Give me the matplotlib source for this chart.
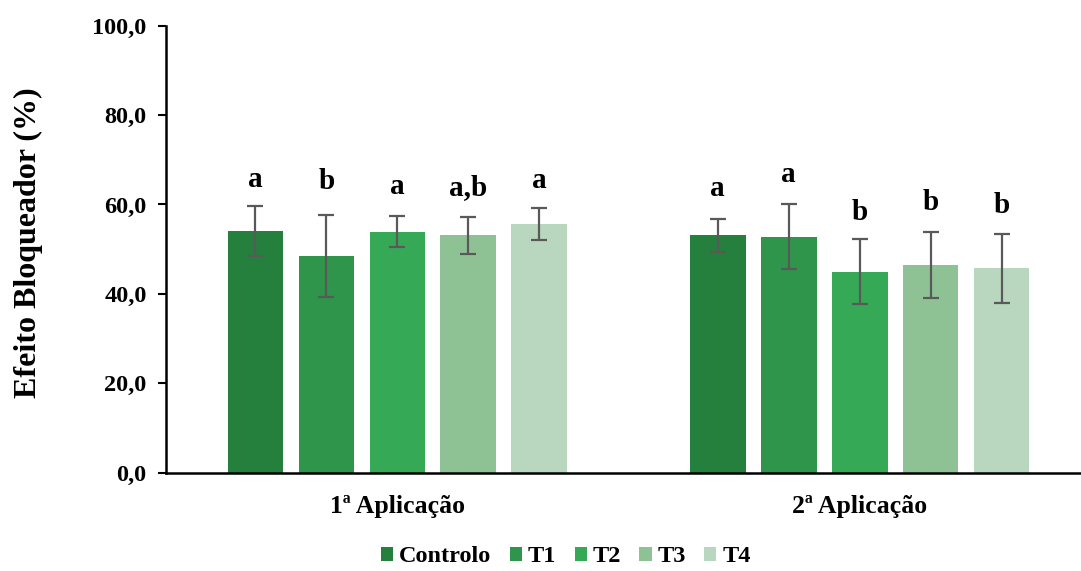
import numpy as np
import matplotlib
matplotlib.use('Agg')
import matplotlib.pyplot as plt

plt.rcParams['font.family'] = ['Liberation Serif', 'DejaVu Serif']
plt.rcParams['font.weight'] = 'bold'

aplicacoes = ['1ª Aplicação', '2ª Aplicação']
tratamentos = ['Controlo', 'T1', 'T2', 'T3', 'T4']
cores = ['#25803E', '#2E954B', '#36A957', '#8EC295', '#B8D7BE']

# média e desvio padrão por tratamento (1ª, 2ª aplicação)
medias = {
    'Controlo': [54.1, 53.1],
    'T1': [48.4, 52.8],
    'T2': [53.9, 45.0],
    'T3': [53.1, 46.5],
    'T4': [55.7, 45.7],
}
desvios = {
    'Controlo': [5.6, 3.7],
    'T1': [9.2, 7.3],
    'T2': [3.5, 7.3],
    'T3': [4.2, 7.4],
    'T4': [3.6, 7.7],
}
letras = {
    'Controlo': ['a', 'a'],
    'T1': ['b', 'a'],
    'T2': ['a', 'b'],
    'T3': ['a,b', 'b'],
    'T4': ['a', 'b'],
}
# altura das letras (posição do texto)
pos_letras = {
    'Controlo': [65.5, 63.5],
    'T1': [65.1, 66.6],
    'T2': [64.0, 58.1],
    'T3': [63.7, 60.4],
    'T4': [65.3, 59.8],
}

fig = plt.figure(figsize=(10.81, 5.71), dpi=100)
ax = fig.add_axes([166 / 1081, 98.3 / 571, 925 / 1081, 447 / 571])

x = np.arange(len(aplicacoes))
passo = 0.1535
largura = 0.12

for i, t in enumerate(tratamentos):
    xs = x + (i - 2) * passo
    ax.bar(xs, medias[t], largura, color=cores[i], label=t, zorder=2)
    ax.errorbar(xs, medias[t], yerr=desvios[t], fmt='none', ecolor='#595959',
                elinewidth=1.6, capsize=5.5, capthick=1.6, zorder=3)
    for xi, yi, s in zip(xs, pos_letras[t], letras[t]):
        ax.text(xi, yi, s, ha='center', va='center', fontsize=21,
                fontweight='bold')

ax.set_xlim(-0.5, 1.5)
ax.set_ylim(0, 100)
ax.set_yticks(np.arange(0, 101, 20))
ax.set_yticklabels([f'{v:.1f}'.replace('.', ',') for v in np.arange(0, 101, 20)])
ax.set_xticks(x)
ax.set_xticklabels(aplicacoes)
ax.tick_params(axis='x', length=0, labelsize=18.5, pad=16)
ax.tick_params(axis='y', length=6, width=1.5, direction='out', labelsize=17.5, pad=8)
for lab in ax.get_xticklabels() + ax.get_yticklabels():
    lab.set_fontweight('bold')

ax.spines['top'].set_visible(False)
ax.spines['right'].set_visible(False)
ax.spines['left'].set_linewidth(1.8)
ax.spines['bottom'].set_linewidth(1.8)

ax.set_ylabel('Efeito Bloqueador (%)', fontsize=23, fontweight='bold', va='center')
ax.yaxis.set_label_coords((28 - 166) / 925, 0.515)

fig.legend(loc='center', bbox_to_anchor=(566 / 1081, 14 / 571), ncol=5,
           frameon=False, handlelength=0.5, handleheight=0.5,
           handletextpad=0.25, columnspacing=0.75, borderpad=0,
           prop={'weight': 'bold', 'size': 17.5})

fig.savefig('out.png', dpi=100)
